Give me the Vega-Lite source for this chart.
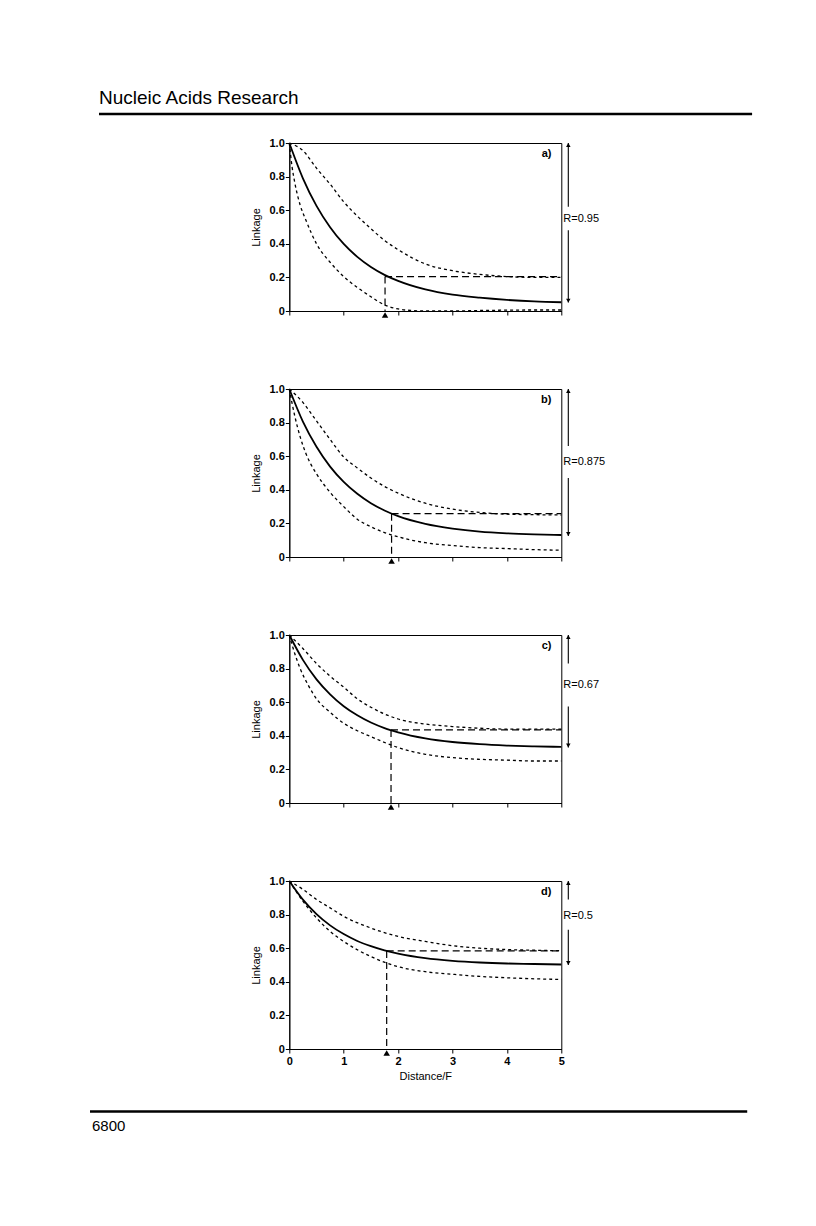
{
"$schema":"https://vega.github.io/schema/vega-lite/v6.json",
"padding":{"left":88,"top":89,"right":0,"bottom":0},
"background":"white",
"config":{"font":"Liberation Sans","view":{"stroke":"black","strokeWidth":1},
"axis":{"grid":false,"domainColor":"black","tickColor":"black","labelColor":"black","titleColor":"black","tickSize":4,"labelFontSize":11,"labelFontWeight":"bold","titleFontSize":11,"titleFontWeight":"normal","labelFont":"Liberation Sans","titleFont":"Liberation Sans","labelOverlap":false,"labelFlush":false,"labelBound":false},
"line":{"color":"black"},"rule":{"color":"black"},"point":{"color":"black","opacity":1},"text":{"color":"black"}},
"datasets":{
"ann":[
{"panel":"a","letter":"a)","R":"R=0.95","lo":0.05,"gapHi":0.62,"gapLo":0.48,"mid":0.55,"xm":1.76,"ym":0.205},
{"panel":"b","letter":"b)","R":"R=0.875","lo":0.125,"gapHi":0.66,"gapLo":0.47,"mid":0.565,"xm":1.88,"ym":0.258},
{"panel":"c","letter":"c)","R":"R=0.67","lo":0.33,"gapHi":0.83,"gapLo":0.575,"mid":0.70,"xm":1.87,"ym":0.435},
{"panel":"d","letter":"d)","R":"R=0.5","lo":0.5,"gapHi":0.89,"gapLo":0.71,"mid":0.79,"xm":1.79,"ym":0.584}],
"curves":[
{"panel":"a","curve":"solid","d":0,"v":1},{"panel":"a","curve":"solid","d":0.25,"v":0.79},{"panel":"a","curve":"solid","d":0.5,"v":0.626},{"panel":"a","curve":"solid","d":0.75,"v":0.499},{"panel":"a","curve":"solid","d":1,"v":0.399},{"panel":"a","curve":"solid","d":1.25,"v":0.322},{"panel":"a","curve":"solid","d":1.5,"v":0.262},{"panel":"a","curve":"solid","d":1.75,"v":0.215},{"panel":"a","curve":"solid","d":2,"v":0.179},{"panel":"a","curve":"solid","d":2.5,"v":0.128},{"panel":"a","curve":"solid","d":3,"v":0.097},{"panel":"a","curve":"solid","d":3.5,"v":0.079},{"panel":"a","curve":"solid","d":4,"v":0.066},{"panel":"a","curve":"solid","d":4.5,"v":0.057},{"panel":"a","curve":"solid","d":5,"v":0.052},
{"panel":"a","curve":"upper","d":0,"v":1},{"panel":"a","curve":"upper","d":0.25,"v":0.955},{"panel":"a","curve":"upper","d":0.5,"v":0.85},{"panel":"a","curve":"upper","d":0.75,"v":0.755},{"panel":"a","curve":"upper","d":1,"v":0.65},{"panel":"a","curve":"upper","d":1.25,"v":0.565},{"panel":"a","curve":"upper","d":1.5,"v":0.49},{"panel":"a","curve":"upper","d":1.75,"v":0.42},{"panel":"a","curve":"upper","d":2,"v":0.365},{"panel":"a","curve":"upper","d":2.5,"v":0.28},{"panel":"a","curve":"upper","d":3,"v":0.24},{"panel":"a","curve":"upper","d":3.5,"v":0.218},{"panel":"a","curve":"upper","d":4,"v":0.205},{"panel":"a","curve":"upper","d":4.5,"v":0.2},{"panel":"a","curve":"upper","d":5,"v":0.2},
{"panel":"a","curve":"lower","d":0,"v":1},{"panel":"a","curve":"lower","d":0.05,"v":0.86},{"panel":"a","curve":"lower","d":0.1,"v":0.765},{"panel":"a","curve":"lower","d":0.2,"v":0.63},{"panel":"a","curve":"lower","d":0.3,"v":0.545},{"panel":"a","curve":"lower","d":0.5,"v":0.4},{"panel":"a","curve":"lower","d":0.75,"v":0.29},{"panel":"a","curve":"lower","d":1,"v":0.205},{"panel":"a","curve":"lower","d":1.25,"v":0.14},{"panel":"a","curve":"lower","d":1.5,"v":0.085},{"panel":"a","curve":"lower","d":1.75,"v":0.036},{"panel":"a","curve":"lower","d":2,"v":0.012},{"panel":"a","curve":"lower","d":2.25,"v":0.003},{"panel":"a","curve":"lower","d":2.5,"v":0},{"panel":"a","curve":"lower","d":3,"v":0},{"panel":"a","curve":"lower","d":3.5,"v":0.003},{"panel":"a","curve":"lower","d":4,"v":0.005},{"panel":"a","curve":"lower","d":4.5,"v":0.006},{"panel":"a","curve":"lower","d":5,"v":0.006},
{"panel":"b","curve":"solid","d":0,"v":1},{"panel":"b","curve":"solid","d":0.25,"v":0.806},{"panel":"b","curve":"solid","d":0.5,"v":0.656},{"panel":"b","curve":"solid","d":0.75,"v":0.538},{"panel":"b","curve":"solid","d":1,"v":0.447},{"panel":"b","curve":"solid","d":1.25,"v":0.376},{"panel":"b","curve":"solid","d":1.5,"v":0.32},{"panel":"b","curve":"solid","d":1.75,"v":0.277},{"panel":"b","curve":"solid","d":2,"v":0.243},{"panel":"b","curve":"solid","d":2.5,"v":0.197},{"panel":"b","curve":"solid","d":3,"v":0.169},{"panel":"b","curve":"solid","d":3.5,"v":0.151},{"panel":"b","curve":"solid","d":4,"v":0.141},{"panel":"b","curve":"solid","d":4.5,"v":0.135},{"panel":"b","curve":"solid","d":5,"v":0.131},
{"panel":"b","curve":"upper","d":0,"v":1},{"panel":"b","curve":"upper","d":0.25,"v":0.92},{"panel":"b","curve":"upper","d":0.5,"v":0.81},{"panel":"b","curve":"upper","d":0.75,"v":0.7},{"panel":"b","curve":"upper","d":1,"v":0.595},{"panel":"b","curve":"upper","d":1.25,"v":0.53},{"panel":"b","curve":"upper","d":1.5,"v":0.47},{"panel":"b","curve":"upper","d":1.75,"v":0.42},{"panel":"b","curve":"upper","d":2,"v":0.38},{"panel":"b","curve":"upper","d":2.5,"v":0.32},{"panel":"b","curve":"upper","d":3,"v":0.285},{"panel":"b","curve":"upper","d":3.5,"v":0.265},{"panel":"b","curve":"upper","d":4,"v":0.255},{"panel":"b","curve":"upper","d":4.5,"v":0.252},{"panel":"b","curve":"upper","d":5,"v":0.25},
{"panel":"b","curve":"lower","d":0,"v":1},{"panel":"b","curve":"lower","d":0.1,"v":0.84},{"panel":"b","curve":"lower","d":0.2,"v":0.715},{"panel":"b","curve":"lower","d":0.3,"v":0.62},{"panel":"b","curve":"lower","d":0.4,"v":0.55},{"panel":"b","curve":"lower","d":0.5,"v":0.495},{"panel":"b","curve":"lower","d":0.75,"v":0.385},{"panel":"b","curve":"lower","d":1,"v":0.3},{"panel":"b","curve":"lower","d":1.25,"v":0.225},{"panel":"b","curve":"lower","d":1.5,"v":0.18},{"panel":"b","curve":"lower","d":1.75,"v":0.145},{"panel":"b","curve":"lower","d":2,"v":0.12},{"panel":"b","curve":"lower","d":2.5,"v":0.085},{"panel":"b","curve":"lower","d":3,"v":0.068},{"panel":"b","curve":"lower","d":3.5,"v":0.056},{"panel":"b","curve":"lower","d":4,"v":0.05},{"panel":"b","curve":"lower","d":4.5,"v":0.044},{"panel":"b","curve":"lower","d":5,"v":0.04},
{"panel":"c","curve":"solid","d":0,"v":1},{"panel":"c","curve":"solid","d":0.25,"v":0.852},{"panel":"c","curve":"solid","d":0.5,"v":0.736},{"panel":"c","curve":"solid","d":0.75,"v":0.647},{"panel":"c","curve":"solid","d":1,"v":0.576},{"panel":"c","curve":"solid","d":1.25,"v":0.522},{"panel":"c","curve":"solid","d":1.5,"v":0.479},{"panel":"c","curve":"solid","d":1.75,"v":0.446},{"panel":"c","curve":"solid","d":2,"v":0.421},{"panel":"c","curve":"solid","d":2.5,"v":0.385},{"panel":"c","curve":"solid","d":3,"v":0.363},{"panel":"c","curve":"solid","d":3.5,"v":0.35},{"panel":"c","curve":"solid","d":4,"v":0.342},{"panel":"c","curve":"solid","d":4.5,"v":0.337},{"panel":"c","curve":"solid","d":5,"v":0.334},
{"panel":"c","curve":"upper","d":0,"v":1},{"panel":"c","curve":"upper","d":0.25,"v":0.92},{"panel":"c","curve":"upper","d":0.5,"v":0.83},{"panel":"c","curve":"upper","d":0.75,"v":0.755},{"panel":"c","curve":"upper","d":1,"v":0.69},{"panel":"c","curve":"upper","d":1.25,"v":0.62},{"panel":"c","curve":"upper","d":1.5,"v":0.57},{"panel":"c","curve":"upper","d":1.75,"v":0.53},{"panel":"c","curve":"upper","d":2,"v":0.5},{"panel":"c","curve":"upper","d":2.5,"v":0.47},{"panel":"c","curve":"upper","d":3,"v":0.455},{"panel":"c","curve":"upper","d":3.5,"v":0.445},{"panel":"c","curve":"upper","d":4,"v":0.44},{"panel":"c","curve":"upper","d":4.5,"v":0.44},{"panel":"c","curve":"upper","d":5,"v":0.44},
{"panel":"c","curve":"lower","d":0,"v":1},{"panel":"c","curve":"lower","d":0.1,"v":0.89},{"panel":"c","curve":"lower","d":0.2,"v":0.8},{"panel":"c","curve":"lower","d":0.35,"v":0.7},{"panel":"c","curve":"lower","d":0.5,"v":0.62},{"panel":"c","curve":"lower","d":0.75,"v":0.54},{"panel":"c","curve":"lower","d":1,"v":0.475},{"panel":"c","curve":"lower","d":1.25,"v":0.43},{"panel":"c","curve":"lower","d":1.5,"v":0.395},{"panel":"c","curve":"lower","d":2,"v":0.33},{"panel":"c","curve":"lower","d":2.5,"v":0.29},{"panel":"c","curve":"lower","d":3,"v":0.27},{"panel":"c","curve":"lower","d":3.5,"v":0.26},{"panel":"c","curve":"lower","d":4,"v":0.255},{"panel":"c","curve":"lower","d":4.5,"v":0.25},{"panel":"c","curve":"lower","d":5,"v":0.25},
{"panel":"d","curve":"solid","d":0,"v":1},{"panel":"d","curve":"solid","d":0.25,"v":0.889},{"panel":"d","curve":"solid","d":0.5,"v":0.803},{"panel":"d","curve":"solid","d":0.75,"v":0.736},{"panel":"d","curve":"solid","d":1,"v":0.684},{"panel":"d","curve":"solid","d":1.25,"v":0.643},{"panel":"d","curve":"solid","d":1.5,"v":0.612},{"panel":"d","curve":"solid","d":1.75,"v":0.587},{"panel":"d","curve":"solid","d":2,"v":0.568},{"panel":"d","curve":"solid","d":2.5,"v":0.541},{"panel":"d","curve":"solid","d":3,"v":0.525},{"panel":"d","curve":"solid","d":3.5,"v":0.515},{"panel":"d","curve":"solid","d":4,"v":0.509},{"panel":"d","curve":"solid","d":4.5,"v":0.506},{"panel":"d","curve":"solid","d":5,"v":0.503},
{"panel":"d","curve":"upper","d":0,"v":1},{"panel":"d","curve":"upper","d":0.25,"v":0.95},{"panel":"d","curve":"upper","d":0.5,"v":0.89},{"panel":"d","curve":"upper","d":0.75,"v":0.84},{"panel":"d","curve":"upper","d":1,"v":0.79},{"panel":"d","curve":"upper","d":1.5,"v":0.72},{"panel":"d","curve":"upper","d":2,"v":0.67},{"panel":"d","curve":"upper","d":2.5,"v":0.64},{"panel":"d","curve":"upper","d":3,"v":0.615},{"panel":"d","curve":"upper","d":3.5,"v":0.6},{"panel":"d","curve":"upper","d":4,"v":0.592},{"panel":"d","curve":"upper","d":4.5,"v":0.588},{"panel":"d","curve":"upper","d":5,"v":0.585},
{"panel":"d","curve":"lower","d":0,"v":1},{"panel":"d","curve":"lower","d":0.25,"v":0.88},{"panel":"d","curve":"lower","d":0.5,"v":0.78},{"panel":"d","curve":"lower","d":0.75,"v":0.7},{"panel":"d","curve":"lower","d":1,"v":0.64},{"panel":"d","curve":"lower","d":1.5,"v":0.55},{"panel":"d","curve":"lower","d":2,"v":0.49},{"panel":"d","curve":"lower","d":2.5,"v":0.46},{"panel":"d","curve":"lower","d":3,"v":0.445},{"panel":"d","curve":"lower","d":3.5,"v":0.432},{"panel":"d","curve":"lower","d":4,"v":0.424},{"panel":"d","curve":"lower","d":4.5,"v":0.418},{"panel":"d","curve":"lower","d":5,"v":0.414}
]},
"spacing":20,
"center":true,
"vconcat":[
{"width":697,"height":25,"view":{"stroke":null},"data":{"values":[{"t":"Nucleic Acids Research"}]},
"layer":[
{"mark":{"type":"text","align":"left","baseline":"top","fontSize":19},"encoding":{"x":{"datum":0,"type":"quantitative","scale":{"domain":[0,1]},"axis":null},"y":{"datum":1,"type":"quantitative","scale":{"domain":[0,1]},"axis":null},"text":{"field":"t","type":"nominal"}}},
{"mark":{"type":"rule","strokeWidth":2.5},"encoding":{"x":{"datum":0,"type":"quantitative"},"x2":{"datum":0.937},"y":{"datum":0,"type":"quantitative"}}}
]},
{"spacing":78,"bounds":"flush","vconcat":[
{"width":272,"height":168,"layer":[
{"data":{"name":"curves"},"transform":[{"filter":"datum.panel==='a' && datum.curve==='solid'"}],"mark":{"type":"line","strokeWidth":1.8,"interpolate":"monotone"},
"encoding":{"x":{"field":"d","type":"quantitative","scale":{"domain":[0,5],"nice":false},"axis":{"values":[0,1,2,3,4,5],"tickCount":10,"labels":false,"title":null}},
"y":{"field":"v","type":"quantitative","scale":{"domain":[0,1],"nice":false},"axis":{"values":[0,0.2,0.4,0.6,0.8,1],"tickCount":10,"labelOverlap":false,"labelExpr":"datum.value===0?'0':format(datum.value,'.1f')","title":"Linkage","labelPadding":1,"titlePadding":8}}}},
{"data":{"name":"curves"},"transform":[{"filter":"datum.panel==='a' && datum.curve!=='solid'"}],"mark":{"type":"line","strokeWidth":1.3,"strokeDash":[3,3],"interpolate":"monotone"},
"encoding":{"x":{"field":"d","type":"quantitative"},"y":{"field":"v","type":"quantitative"},"detail":{"field":"curve","type":"nominal"}}},
{"data":{"name":"ann"},"transform":[{"filter":"datum.panel==='a'"}],"mark":{"type":"rule","strokeDash":[7,4],"strokeWidth":1.2},"encoding":{"x":{"field":"xm","type":"quantitative"},"y":{"field":"ym","type":"quantitative"},"y2":{"datum":0}}},
{"data":{"name":"ann"},"transform":[{"filter":"datum.panel==='a'"}],"mark":{"type":"rule","strokeDash":[7,4],"strokeWidth":1.2},"encoding":{"x":{"field":"xm","type":"quantitative"},"x2":{"datum":5},"y":{"field":"ym","type":"quantitative"}}},
{"data":{"name":"ann"},"transform":[{"filter":"datum.panel==='a'"}],"mark":{"type":"point","shape":"triangle-up","filled":true,"size":42,"yOffset":4},"encoding":{"x":{"field":"xm","type":"quantitative"},"y":{"datum":0,"type":"quantitative"}}},
{"data":{"name":"ann"},"transform":[{"filter":"datum.panel==='a'"}],"mark":{"type":"rule","strokeWidth":1.1,"xOffset":7},"encoding":{"x":{"datum":5,"type":"quantitative"},"y":{"field":"gapHi","type":"quantitative"},"y2":{"datum":1}}},
{"data":{"name":"ann"},"transform":[{"filter":"datum.panel==='a'"}],"mark":{"type":"rule","strokeWidth":1.1,"xOffset":7},"encoding":{"x":{"datum":5,"type":"quantitative"},"y":{"field":"gapLo","type":"quantitative"},"y2":{"field":"lo"}}},
{"data":{"name":"ann"},"transform":[{"filter":"datum.panel==='a'"}],"mark":{"type":"point","shape":"triangle-up","filled":true,"size":20,"xOffset":7,"yOffset":2},"encoding":{"x":{"datum":5,"type":"quantitative"},"y":{"datum":1,"type":"quantitative"}}},
{"data":{"name":"ann"},"transform":[{"filter":"datum.panel==='a'"}],"mark":{"type":"point","shape":"triangle-down","filled":true,"size":20,"xOffset":7,"yOffset":-2},"encoding":{"x":{"datum":5,"type":"quantitative"},"y":{"field":"lo","type":"quantitative"}}},
{"data":{"name":"ann"},"transform":[{"filter":"datum.panel==='a'"}],"mark":{"type":"text","align":"left","baseline":"middle","fontSize":11,"xOffset":2},"encoding":{"x":{"datum":5,"type":"quantitative"},"y":{"field":"mid","type":"quantitative"},"text":{"field":"R","type":"nominal"}}},
{"data":{"name":"ann"},"transform":[{"filter":"datum.panel==='a'"}],"mark":{"type":"text","align":"right","baseline":"middle","fontSize":11,"fontWeight":"bold"},"encoding":{"x":{"datum":4.82,"type":"quantitative"},"y":{"datum":0.935,"type":"quantitative"},"text":{"field":"letter","type":"nominal"}}}
]},
{"width":272,"height":168,"layer":[
{"data":{"name":"curves"},"transform":[{"filter":"datum.panel==='b' && datum.curve==='solid'"}],"mark":{"type":"line","strokeWidth":1.8,"interpolate":"monotone"},
"encoding":{"x":{"field":"d","type":"quantitative","scale":{"domain":[0,5],"nice":false},"axis":{"values":[0,1,2,3,4,5],"tickCount":10,"labels":false,"title":null}},
"y":{"field":"v","type":"quantitative","scale":{"domain":[0,1],"nice":false},"axis":{"values":[0,0.2,0.4,0.6,0.8,1],"tickCount":10,"labelOverlap":false,"labelExpr":"datum.value===0?'0':format(datum.value,'.1f')","title":"Linkage","labelPadding":1,"titlePadding":8}}}},
{"data":{"name":"curves"},"transform":[{"filter":"datum.panel==='b' && datum.curve!=='solid'"}],"mark":{"type":"line","strokeWidth":1.3,"strokeDash":[3,3],"interpolate":"monotone"},
"encoding":{"x":{"field":"d","type":"quantitative"},"y":{"field":"v","type":"quantitative"},"detail":{"field":"curve","type":"nominal"}}},
{"data":{"name":"ann"},"transform":[{"filter":"datum.panel==='b'"}],"mark":{"type":"rule","strokeDash":[7,4],"strokeWidth":1.2},"encoding":{"x":{"field":"xm","type":"quantitative"},"y":{"field":"ym","type":"quantitative"},"y2":{"datum":0}}},
{"data":{"name":"ann"},"transform":[{"filter":"datum.panel==='b'"}],"mark":{"type":"rule","strokeDash":[7,4],"strokeWidth":1.2},"encoding":{"x":{"field":"xm","type":"quantitative"},"x2":{"datum":5},"y":{"field":"ym","type":"quantitative"}}},
{"data":{"name":"ann"},"transform":[{"filter":"datum.panel==='b'"}],"mark":{"type":"point","shape":"triangle-up","filled":true,"size":42,"yOffset":4},"encoding":{"x":{"field":"xm","type":"quantitative"},"y":{"datum":0,"type":"quantitative"}}},
{"data":{"name":"ann"},"transform":[{"filter":"datum.panel==='b'"}],"mark":{"type":"rule","strokeWidth":1.1,"xOffset":7},"encoding":{"x":{"datum":5,"type":"quantitative"},"y":{"field":"gapHi","type":"quantitative"},"y2":{"datum":1}}},
{"data":{"name":"ann"},"transform":[{"filter":"datum.panel==='b'"}],"mark":{"type":"rule","strokeWidth":1.1,"xOffset":7},"encoding":{"x":{"datum":5,"type":"quantitative"},"y":{"field":"gapLo","type":"quantitative"},"y2":{"field":"lo"}}},
{"data":{"name":"ann"},"transform":[{"filter":"datum.panel==='b'"}],"mark":{"type":"point","shape":"triangle-up","filled":true,"size":20,"xOffset":7,"yOffset":2},"encoding":{"x":{"datum":5,"type":"quantitative"},"y":{"datum":1,"type":"quantitative"}}},
{"data":{"name":"ann"},"transform":[{"filter":"datum.panel==='b'"}],"mark":{"type":"point","shape":"triangle-down","filled":true,"size":20,"xOffset":7,"yOffset":-2},"encoding":{"x":{"datum":5,"type":"quantitative"},"y":{"field":"lo","type":"quantitative"}}},
{"data":{"name":"ann"},"transform":[{"filter":"datum.panel==='b'"}],"mark":{"type":"text","align":"left","baseline":"middle","fontSize":11,"xOffset":2},"encoding":{"x":{"datum":5,"type":"quantitative"},"y":{"field":"mid","type":"quantitative"},"text":{"field":"R","type":"nominal"}}},
{"data":{"name":"ann"},"transform":[{"filter":"datum.panel==='b'"}],"mark":{"type":"text","align":"right","baseline":"middle","fontSize":11,"fontWeight":"bold"},"encoding":{"x":{"datum":4.82,"type":"quantitative"},"y":{"datum":0.935,"type":"quantitative"},"text":{"field":"letter","type":"nominal"}}}
]},
{"width":272,"height":168,"layer":[
{"data":{"name":"curves"},"transform":[{"filter":"datum.panel==='c' && datum.curve==='solid'"}],"mark":{"type":"line","strokeWidth":1.8,"interpolate":"monotone"},
"encoding":{"x":{"field":"d","type":"quantitative","scale":{"domain":[0,5],"nice":false},"axis":{"values":[0,1,2,3,4,5],"tickCount":10,"labels":false,"title":null}},
"y":{"field":"v","type":"quantitative","scale":{"domain":[0,1],"nice":false},"axis":{"values":[0,0.2,0.4,0.6,0.8,1],"tickCount":10,"labelOverlap":false,"labelExpr":"datum.value===0?'0':format(datum.value,'.1f')","title":"Linkage","labelPadding":1,"titlePadding":8}}}},
{"data":{"name":"curves"},"transform":[{"filter":"datum.panel==='c' && datum.curve!=='solid'"}],"mark":{"type":"line","strokeWidth":1.3,"strokeDash":[3,3],"interpolate":"monotone"},
"encoding":{"x":{"field":"d","type":"quantitative"},"y":{"field":"v","type":"quantitative"},"detail":{"field":"curve","type":"nominal"}}},
{"data":{"name":"ann"},"transform":[{"filter":"datum.panel==='c'"}],"mark":{"type":"rule","strokeDash":[7,4],"strokeWidth":1.2},"encoding":{"x":{"field":"xm","type":"quantitative"},"y":{"field":"ym","type":"quantitative"},"y2":{"datum":0}}},
{"data":{"name":"ann"},"transform":[{"filter":"datum.panel==='c'"}],"mark":{"type":"rule","strokeDash":[7,4],"strokeWidth":1.2},"encoding":{"x":{"field":"xm","type":"quantitative"},"x2":{"datum":5},"y":{"field":"ym","type":"quantitative"}}},
{"data":{"name":"ann"},"transform":[{"filter":"datum.panel==='c'"}],"mark":{"type":"point","shape":"triangle-up","filled":true,"size":42,"yOffset":4},"encoding":{"x":{"field":"xm","type":"quantitative"},"y":{"datum":0,"type":"quantitative"}}},
{"data":{"name":"ann"},"transform":[{"filter":"datum.panel==='c'"}],"mark":{"type":"rule","strokeWidth":1.1,"xOffset":7},"encoding":{"x":{"datum":5,"type":"quantitative"},"y":{"field":"gapHi","type":"quantitative"},"y2":{"datum":1}}},
{"data":{"name":"ann"},"transform":[{"filter":"datum.panel==='c'"}],"mark":{"type":"rule","strokeWidth":1.1,"xOffset":7},"encoding":{"x":{"datum":5,"type":"quantitative"},"y":{"field":"gapLo","type":"quantitative"},"y2":{"field":"lo"}}},
{"data":{"name":"ann"},"transform":[{"filter":"datum.panel==='c'"}],"mark":{"type":"point","shape":"triangle-up","filled":true,"size":20,"xOffset":7,"yOffset":2},"encoding":{"x":{"datum":5,"type":"quantitative"},"y":{"datum":1,"type":"quantitative"}}},
{"data":{"name":"ann"},"transform":[{"filter":"datum.panel==='c'"}],"mark":{"type":"point","shape":"triangle-down","filled":true,"size":20,"xOffset":7,"yOffset":-2},"encoding":{"x":{"datum":5,"type":"quantitative"},"y":{"field":"lo","type":"quantitative"}}},
{"data":{"name":"ann"},"transform":[{"filter":"datum.panel==='c'"}],"mark":{"type":"text","align":"left","baseline":"middle","fontSize":11,"xOffset":2},"encoding":{"x":{"datum":5,"type":"quantitative"},"y":{"field":"mid","type":"quantitative"},"text":{"field":"R","type":"nominal"}}},
{"data":{"name":"ann"},"transform":[{"filter":"datum.panel==='c'"}],"mark":{"type":"text","align":"right","baseline":"middle","fontSize":11,"fontWeight":"bold"},"encoding":{"x":{"datum":4.82,"type":"quantitative"},"y":{"datum":0.935,"type":"quantitative"},"text":{"field":"letter","type":"nominal"}}}
]},
{"width":272,"height":168,"layer":[
{"data":{"name":"curves"},"transform":[{"filter":"datum.panel==='d' && datum.curve==='solid'"}],"mark":{"type":"line","strokeWidth":1.8,"interpolate":"monotone"},
"encoding":{"x":{"field":"d","type":"quantitative","scale":{"domain":[0,5],"nice":false},"axis":{"values":[0,1,2,3,4,5],"tickCount":10,"format":"d","title":"Distance/F","labelPadding":2,"titlePadding":4}},
"y":{"field":"v","type":"quantitative","scale":{"domain":[0,1],"nice":false},"axis":{"values":[0,0.2,0.4,0.6,0.8,1],"tickCount":10,"labelOverlap":false,"labelExpr":"datum.value===0?'0':format(datum.value,'.1f')","title":"Linkage","labelPadding":1,"titlePadding":8}}}},
{"data":{"name":"curves"},"transform":[{"filter":"datum.panel==='d' && datum.curve!=='solid'"}],"mark":{"type":"line","strokeWidth":1.3,"strokeDash":[3,3],"interpolate":"monotone"},
"encoding":{"x":{"field":"d","type":"quantitative"},"y":{"field":"v","type":"quantitative"},"detail":{"field":"curve","type":"nominal"}}},
{"data":{"name":"ann"},"transform":[{"filter":"datum.panel==='d'"}],"mark":{"type":"rule","strokeDash":[7,4],"strokeWidth":1.2},"encoding":{"x":{"field":"xm","type":"quantitative"},"y":{"field":"ym","type":"quantitative"},"y2":{"datum":0}}},
{"data":{"name":"ann"},"transform":[{"filter":"datum.panel==='d'"}],"mark":{"type":"rule","strokeDash":[7,4],"strokeWidth":1.2},"encoding":{"x":{"field":"xm","type":"quantitative"},"x2":{"datum":5},"y":{"field":"ym","type":"quantitative"}}},
{"data":{"name":"ann"},"transform":[{"filter":"datum.panel==='d'"}],"mark":{"type":"point","shape":"triangle-up","filled":true,"size":42,"yOffset":4},"encoding":{"x":{"field":"xm","type":"quantitative"},"y":{"datum":0,"type":"quantitative"}}},
{"data":{"name":"ann"},"transform":[{"filter":"datum.panel==='d'"}],"mark":{"type":"rule","strokeWidth":1.1,"xOffset":7},"encoding":{"x":{"datum":5,"type":"quantitative"},"y":{"field":"gapHi","type":"quantitative"},"y2":{"datum":1}}},
{"data":{"name":"ann"},"transform":[{"filter":"datum.panel==='d'"}],"mark":{"type":"rule","strokeWidth":1.1,"xOffset":7},"encoding":{"x":{"datum":5,"type":"quantitative"},"y":{"field":"gapLo","type":"quantitative"},"y2":{"field":"lo"}}},
{"data":{"name":"ann"},"transform":[{"filter":"datum.panel==='d'"}],"mark":{"type":"point","shape":"triangle-up","filled":true,"size":20,"xOffset":7,"yOffset":2},"encoding":{"x":{"datum":5,"type":"quantitative"},"y":{"datum":1,"type":"quantitative"}}},
{"data":{"name":"ann"},"transform":[{"filter":"datum.panel==='d'"}],"mark":{"type":"point","shape":"triangle-down","filled":true,"size":20,"xOffset":7,"yOffset":-2},"encoding":{"x":{"datum":5,"type":"quantitative"},"y":{"field":"lo","type":"quantitative"}}},
{"data":{"name":"ann"},"transform":[{"filter":"datum.panel==='d'"}],"mark":{"type":"text","align":"left","baseline":"middle","fontSize":11,"xOffset":2},"encoding":{"x":{"datum":5,"type":"quantitative"},"y":{"field":"mid","type":"quantitative"},"text":{"field":"R","type":"nominal"}}},
{"data":{"name":"ann"},"transform":[{"filter":"datum.panel==='d'"}],"mark":{"type":"text","align":"right","baseline":"middle","fontSize":11,"fontWeight":"bold"},"encoding":{"x":{"datum":4.82,"type":"quantitative"},"y":{"datum":0.935,"type":"quantitative"},"text":{"field":"letter","type":"nominal"}}}
]}
]},
{"width":697,"height":36,"view":{"stroke":null},"data":{"values":[{"t":"6800"}]},
"layer":[
{"mark":{"type":"text","align":"left","baseline":"top","fontSize":15},"encoding":{"x":{"datum":-0.01,"type":"quantitative","scale":{"domain":[0,1]},"axis":null},"y":{"datum":0.533,"type":"quantitative","scale":{"domain":[0,1]},"axis":null},"text":{"field":"t","type":"nominal"}}},
{"mark":{"type":"rule","strokeWidth":2.5},"encoding":{"x":{"datum":-0.0129,"type":"quantitative"},"x2":{"datum":0.93},"y":{"datum":0.733,"type":"quantitative"}}}
]}
]
}
